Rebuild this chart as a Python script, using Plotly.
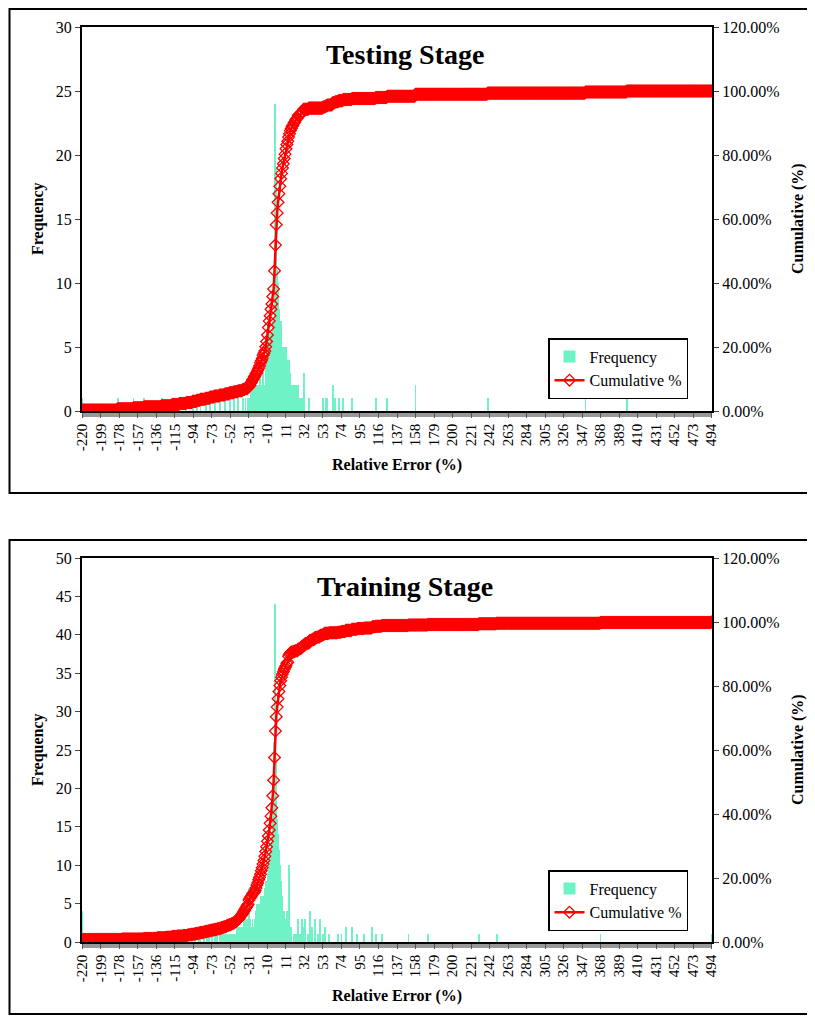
import numpy as np
import plotly.graph_objects as go

# categorias do eixo x (erro relativo, %)
erro_min, erro_max = -220, 494
categorias = list(range(erro_min, erro_max + 1))
rotulos_x = list(range(-220, 495, 21))

# Testing stage: classes com frequencia nao nula (valor, contagem)
teste_valores = [-220, -180, -162, -150, -130, -118, -110, -102, -95, -90, -86, -80, -75, -70, -64, -58,
                 -53, -48, -43, -38, -35,
                 -32, -31, -30, -29, -28, -27, -26, -25, -24, -23, -22, -21, -20,
                 -19, -18, -17, -16, -15, -14, -13,
                 -12, -11, -10, -9, -8, -7, -6, -5, -4, -3, -2, -1, 0,
                 1, 2, 3, 4, 5, 6, 7, 8, 9, 10, 11, 12, 13, 14, 15, 16, 17,
                 18, 19, 20, 21, 22, 23, 24, 25, 26, 28, 29,
                 31, 37, 53, 56, 58, 64, 67, 71, 76, 86, 113, 126, 158, 240, 351, 398]
teste_freq = [1, 1, 1, 1, 1, 1, 1, 1, 1, 1, 1, 1, 1, 1, 1, 1,
              1, 1, 1, 1, 1,
              1, 1, 1, 2, 1, 2, 1, 2, 1, 2, 1, 2, 2,
              2, 3, 2, 2, 3, 2, 2,
              4, 5, 6, 7, 6, 5, 6, 5, 7, 7, 17, 24, 19,
              11, 10, 8, 7, 7, 5, 5, 4, 5, 4, 5, 4, 3, 4, 3, 3, 2,
              2, 1, 2, 1, 2, 1, 1, 2, 1, 1, 1,
              3, 1, 1, 1, 1, 2, 1, 1, 1, 1, 1, 1, 2, 1, 1, 1]

# Training stage
treino_valores = [-220, -175, -150, -135, -125, -118, -112, -105, -100, -96, -92, -88, -86,
                  -82, -79, -76, -73, -70, -67, -64,
                  -62, -60, -58, -56, -55, -53, -51, -50, -48, -47, -46, -45, -44, -43, -42, -41, -40,
                  -39, -38, -37, -36, -35, -34, -33, -32, -31, -30, -29, -28, -27, -26, -25,
                  -24, -23, -22, -21, -20, -19, -18, -17, -16, -15,
                  -14, -13, -12, -11, -10, -9, -8, -7, -6, -5, -4, -3, -2, -1, 0,
                  1, 2, 3, 4, 5, 6, 7, 8, 9, 10, 11, 12, 13, 14, 15, 16, 17,
                  20, 22, 25, 27, 29, 31, 33, 36, 38, 41, 44, 47, 50, 53, 55,
                  60, 70, 74, 79, 86, 92, 100, 109, 113, 120, 150, 172, 230, 250, 368, 494]
treino_freq = [4, 1, 1, 1, 1, 1, 1, 1, 1, 1, 1, 1, 1,
               1, 1, 1, 1, 1, 1, 1,
               1, 1, 1, 1, 1, 1, 1, 1, 1, 1, 1, 2, 1, 1, 2, 2, 2,
               2, 2, 3, 2, 3, 2, 3, 2, 7, 3, 2, 2, 3, 2, 1,
               3, 4, 5, 4, 5, 4, 5, 6, 5, 6,
               6, 7, 8, 8, 9, 9, 10, 11, 12, 14, 20, 26, 38, 44, 24,
               16, 14, 12, 10, 8, 6, 5, 4, 4, 3, 3, 4, 2, 10, 3, 2, 2,
               1, 1, 3, 1, 3, 2, 3, 1, 4, 2, 3, 1, 3, 1, 2,
               1, 1, 1, 2, 2, 1, 1, 2, 1, 1, 1, 1, 1, 1, 1, 1]

FONTE = 'Liberation Serif'
W, H = 815, 1019
OFF = 8  # margem do body da pagina


def serie_completa(valores, freq):
    f = np.zeros(len(categorias))
    for v, c in zip(valores, freq):
        f[v - erro_min] += c
    cum = np.cumsum(f) / f.sum()
    return f, cum


def px(x):
    return (x - OFF) / W


def py(y):
    return 1 - (y - OFF) / H


fig = go.Figure()

paineis = [
    dict(titulo='Testing Stage', valores=teste_valores, freq=teste_freq, ymax=30, topo=27, base=411,
         xa='x', ya='y', ya2='y2', leg='legend', y_leg=338),
    dict(titulo='Training Stage', valores=treino_valores, freq=treino_freq, ymax=50, topo=558, base=942,
         xa='x2', ya='y3', ya2='y4', leg='legend2', y_leg=870),
]

for p in paineis:
    f, cum = serie_completa(p['valores'], p['freq'])
    fig.add_trace(go.Bar(x=categorias, y=f, name='Frequency', xaxis=p['xa'], yaxis=p['ya'],
                         marker=dict(color='#6ff2c6', line=dict(width=0)), width=1,
                         legend=p['leg']))
    fig.add_trace(go.Scatter(x=categorias, y=cum, name='Cumulative %', mode='lines+markers',
                             xaxis=p['xa'], yaxis=p['ya2'], legend=p['leg'],
                             line=dict(color='#ff0000', width=2.5),
                             marker=dict(symbol='diamond-open', size=9, color='#ff0000',
                                         line=dict(width=1.3, color='#ff0000'))))

dom_x = [px(82), px(712)]
eixo_x = dict(domain=dom_x, range=[erro_min - 0.5, erro_max + 0.5], tickmode='array',
              tickvals=rotulos_x, ticktext=[str(v) for v in rotulos_x], tickangle=-90,
              ticks='outside', ticklen=5, tickcolor='#555', showline=True, linecolor='black',
              linewidth=1.5, mirror=True, showgrid=False, zeroline=False, automargin=False,
              tickfont=dict(family=FONTE, size=15, color='black'),
              minor=dict(tickmode='linear', tick0=erro_min, dtick=1, ticks='outside',
                         ticklen=4, tickcolor='#999', showgrid=False))

layout = dict(width=W, height=H, margin=dict(l=0, r=0, t=0, b=0, pad=0, autoexpand=False),
              plot_bgcolor='white', paper_bgcolor='white', bargap=0,
              font=dict(family=FONTE, color='black'), barmode='overlay')

for i, p in enumerate(paineis):
    dom_y = [py(p['base']), py(p['topo'])]
    sx = '' if i == 0 else '2'
    ny = p['ya'][1:] if len(p['ya']) > 1 else ''
    ny2 = p['ya2'][1:]
    layout['xaxis' + sx] = dict(eixo_x, anchor=p['ya'])
    layout['yaxis' + ny] = dict(domain=dom_y, anchor=p['xa'], range=[0, p['ymax']], dtick=5,
                                ticks='outside', ticklen=5, showline=True, linecolor='black',
                                linewidth=2, showgrid=False, zeroline=False, automargin=False,
                                tickfont=dict(family=FONTE, size=16, color='black'))
    layout['yaxis' + ny2] = dict(domain=dom_y, anchor=p['xa'], overlaying=p['ya'], side='right',
                                 range=[0, 1.2], dtick=0.2, tickformat='.2%', ticks='outside',
                                 ticklen=5, showline=True, linecolor='black', linewidth=2,
                                 showgrid=False, zeroline=False, automargin=False,
                                 tickfont=dict(family=FONTE, size=16, color='black'))
    layout[p['leg']] = dict(x=px(548), y=py(p['y_leg']), xanchor='left', yanchor='top',
                            bgcolor='white', bordercolor='black', borderwidth=1.5,
                            font=dict(family=FONTE, size=16, color='black'),
                            tracegroupgap=2, itemwidth=30)

fig.update_layout(**layout)

# titulos e rotulos dos eixos
for p in paineis:
    meio = (p['topo'] + p['base']) / 2
    fig.add_annotation(x=px(405), y=py(p['topo'] + 28), xref='paper', yref='paper',
                       xanchor='center', yanchor='middle',
                       text='<b>' + p['titulo'] + '</b>', showarrow=False,
                       font=dict(family=FONTE, size=28, color='black'))
    fig.add_annotation(x=px(38), y=py(meio), xref='paper', yref='paper', text='<b>Frequency</b>',
                       xanchor='center', yanchor='middle',
                       textangle=-90, showarrow=False, font=dict(family=FONTE, size=16, color='black'))
    fig.add_annotation(x=px(798), y=py(meio), xref='paper', yref='paper', text='<b>Cumulative (%)</b>',
                       xanchor='center', yanchor='middle',
                       textangle=-90, showarrow=False, font=dict(family=FONTE, size=16, color='black'))
    fig.add_annotation(x=px(397), y=py(p['base'] + 54), xref='paper', yref='paper',
                       xanchor='center', yanchor='middle',
                       text='<b>Relative Error (%)</b>', showarrow=False,
                       font=dict(family=FONTE, size=16, color='black'))

# molduras dos dois graficos (a borda esquerda fica no limite da figura)
for y0, y1 in [(9, 493), (540, 1014)]:
    fig.add_shape(type='rect', xref='paper', yref='paper', x0=1.5 / W, x1=1.02, y0=py(y1), y1=py(y0),
                  line=dict(color='black', width=2))

fig.write_html("out.html")
